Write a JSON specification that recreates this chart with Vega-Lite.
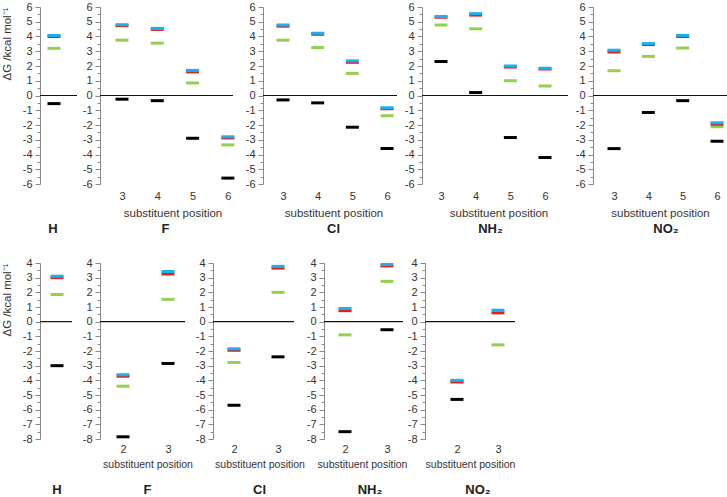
{
"$schema":"https://vega.github.io/schema/vega-lite/v6.json",
"padding":{"left":1,"top":1,"right":0,"bottom":0},
"datasets":{"d":[
{"r":"A","s":"H","p":1,"m":"M1","v":-0.55},{"r":"A","s":"H","p":1,"m":"M2","v":3.2},{"r":"A","s":"H","p":1,"m":"M3","v":4.0},{"r":"A","s":"H","p":1,"m":"M4","v":4.07},
{"r":"A","s":"F","p":3,"m":"M1","v":-0.25},{"r":"A","s":"F","p":3,"m":"M2","v":3.75},{"r":"A","s":"F","p":3,"m":"M3","v":4.73},{"r":"A","s":"F","p":3,"m":"M4","v":4.8},
{"r":"A","s":"F","p":4,"m":"M1","v":-0.35},{"r":"A","s":"F","p":4,"m":"M2","v":3.55},{"r":"A","s":"F","p":4,"m":"M3","v":4.48},{"r":"A","s":"F","p":4,"m":"M4","v":4.55},
{"r":"A","s":"F","p":5,"m":"M1","v":-2.9},{"r":"A","s":"F","p":5,"m":"M2","v":0.85},{"r":"A","s":"F","p":5,"m":"M3","v":1.6},{"r":"A","s":"F","p":5,"m":"M4","v":1.7},
{"r":"A","s":"F","p":6,"m":"M1","v":-5.6},{"r":"A","s":"F","p":6,"m":"M2","v":-3.35},{"r":"A","s":"F","p":6,"m":"M3","v":-2.88},{"r":"A","s":"F","p":6,"m":"M4","v":-2.8},
{"r":"A","s":"Cl","p":3,"m":"M1","v":-0.3},{"r":"A","s":"Cl","p":3,"m":"M2","v":3.75},{"r":"A","s":"Cl","p":3,"m":"M3","v":4.7},{"r":"A","s":"Cl","p":3,"m":"M4","v":4.78},
{"r":"A","s":"Cl","p":4,"m":"M1","v":-0.5},{"r":"A","s":"Cl","p":4,"m":"M2","v":3.25},{"r":"A","s":"Cl","p":4,"m":"M3","v":4.15},{"r":"A","s":"Cl","p":4,"m":"M4","v":4.22},
{"r":"A","s":"Cl","p":5,"m":"M1","v":-2.15},{"r":"A","s":"Cl","p":5,"m":"M2","v":1.5},{"r":"A","s":"Cl","p":5,"m":"M3","v":2.25},{"r":"A","s":"Cl","p":5,"m":"M4","v":2.35},
{"r":"A","s":"Cl","p":6,"m":"M1","v":-3.6},{"r":"A","s":"Cl","p":6,"m":"M2","v":-1.38},{"r":"A","s":"Cl","p":6,"m":"M3","v":-0.9},{"r":"A","s":"Cl","p":6,"m":"M4","v":-0.83},
{"r":"A","s":"NH2","p":3,"m":"M1","v":2.3},{"r":"A","s":"NH2","p":3,"m":"M2","v":4.78},{"r":"A","s":"NH2","p":3,"m":"M3","v":5.3},{"r":"A","s":"NH2","p":3,"m":"M4","v":5.35},
{"r":"A","s":"NH2","p":4,"m":"M1","v":0.2},{"r":"A","s":"NH2","p":4,"m":"M2","v":4.52},{"r":"A","s":"NH2","p":4,"m":"M3","v":5.45},{"r":"A","s":"NH2","p":4,"m":"M4","v":5.55},
{"r":"A","s":"NH2","p":5,"m":"M1","v":-2.85},{"r":"A","s":"NH2","p":5,"m":"M2","v":1.0},{"r":"A","s":"NH2","p":5,"m":"M3","v":1.93},{"r":"A","s":"NH2","p":5,"m":"M4","v":2.0},
{"r":"A","s":"NH2","p":6,"m":"M1","v":-4.2},{"r":"A","s":"NH2","p":6,"m":"M2","v":0.65},{"r":"A","s":"NH2","p":6,"m":"M3","v":1.8},{"r":"A","s":"NH2","p":6,"m":"M4","v":1.85},
{"r":"A","s":"NO2","p":3,"m":"M1","v":-3.6},{"r":"A","s":"NO2","p":3,"m":"M2","v":1.68},{"r":"A","s":"NO2","p":3,"m":"M3","v":2.95},{"r":"A","s":"NO2","p":3,"m":"M4","v":3.07},
{"r":"A","s":"NO2","p":4,"m":"M1","v":-1.15},{"r":"A","s":"NO2","p":4,"m":"M2","v":2.65},{"r":"A","s":"NO2","p":4,"m":"M3","v":3.45},{"r":"A","s":"NO2","p":4,"m":"M4","v":3.52},
{"r":"A","s":"NO2","p":5,"m":"M1","v":-0.35},{"r":"A","s":"NO2","p":5,"m":"M2","v":3.22},{"r":"A","s":"NO2","p":5,"m":"M3","v":4.0},{"r":"A","s":"NO2","p":5,"m":"M4","v":4.07},
{"r":"A","s":"NO2","p":6,"m":"M1","v":-3.1},{"r":"A","s":"NO2","p":6,"m":"M2","v":-2.12},{"r":"A","s":"NO2","p":6,"m":"M3","v":-1.95},{"r":"A","s":"NO2","p":6,"m":"M4","v":-1.85},
{"r":"B","s":"H","p":1,"m":"M1","v":-3.0},{"r":"B","s":"H","p":1,"m":"M2","v":1.85},{"r":"B","s":"H","p":1,"m":"M3","v":3.0},{"r":"B","s":"H","p":1,"m":"M4","v":3.1},
{"r":"B","s":"F","p":2,"m":"M1","v":-7.85},{"r":"B","s":"F","p":2,"m":"M2","v":-4.4},{"r":"B","s":"F","p":2,"m":"M3","v":-3.72},{"r":"B","s":"F","p":2,"m":"M4","v":-3.62},
{"r":"B","s":"F","p":3,"m":"M1","v":-2.85},{"r":"B","s":"F","p":3,"m":"M2","v":1.52},{"r":"B","s":"F","p":3,"m":"M3","v":3.25},{"r":"B","s":"F","p":3,"m":"M4","v":3.42},
{"r":"B","s":"Cl","p":2,"m":"M1","v":-5.7},{"r":"B","s":"Cl","p":2,"m":"M2","v":-2.78},{"r":"B","s":"Cl","p":2,"m":"M3","v":-1.95},{"r":"B","s":"Cl","p":2,"m":"M4","v":-1.85},
{"r":"B","s":"Cl","p":3,"m":"M1","v":-2.4},{"r":"B","s":"Cl","p":3,"m":"M2","v":2.0},{"r":"B","s":"Cl","p":3,"m":"M3","v":3.65},{"r":"B","s":"Cl","p":3,"m":"M4","v":3.77},
{"r":"B","s":"NH2","p":2,"m":"M1","v":-7.5},{"r":"B","s":"NH2","p":2,"m":"M2","v":-0.9},{"r":"B","s":"NH2","p":2,"m":"M3","v":0.75},{"r":"B","s":"NH2","p":2,"m":"M4","v":0.9},
{"r":"B","s":"NH2","p":3,"m":"M1","v":-0.55},{"r":"B","s":"NH2","p":3,"m":"M2","v":2.75},{"r":"B","s":"NH2","p":3,"m":"M3","v":3.8},{"r":"B","s":"NH2","p":3,"m":"M4","v":3.9},
{"r":"B","s":"NO2","p":2,"m":"M1","v":-5.3},{"r":"B","s":"NO2","p":2,"m":"M2","v":-4.15},{"r":"B","s":"NO2","p":2,"m":"M3","v":-4.08},{"r":"B","s":"NO2","p":2,"m":"M4","v":-4.0},
{"r":"B","s":"NO2","p":3,"m":"M2","v":-1.58},{"r":"B","s":"NO2","p":3,"m":"M3","v":0.6},{"r":"B","s":"NO2","p":3,"m":"M4","v":0.78}
],"one":[{}]},
"vconcat":[
{"hconcat":[
 {"width":42,"height":177,
  "title":{"text":"H","orient":"bottom","offset":34,"dx":-8},
  "layer":[
   {"data":{"name":"d"},"transform":[{"filter":"datum.r==='A'&&datum.s==='H'"}],"mark":{"type":"tick","orient":"horizontal","size":13,"thickness":3,"opacity":1},"encoding":{
     "x":{"field":"p","type":"quantitative","scale":{"domain":[0.6,1.8]},"axis":null},
     "y":{"field":"v","type":"quantitative","scale":{"domain":[-6,6]},"axis":{"title":"ΔG /kcal mol⁻¹","titleAnchor":"end","titlePadding":10,"values":[-6,-5.5,-5,-4.5,-4,-3.5,-3,-2.5,-2,-1.5,-1,-0.5,0,0.5,1,1.5,2,2.5,3,3.5,4,4.5,5,5.5,6],"labelExpr":"datum.value%1===0?''+datum.value:''","tickSize":{"condition":{"test":"datum.value%1!==0","value":3},"value":5}}},
     "color":{"field":"m","type":"nominal","scale":{"domain":["M1","M2","M3","M4"],"range":["#000000","#92d050","#e02020","#1ab0f0"]},"legend":null}}},
   {"data":{"name":"one"},"mark":{"type":"rule","color":"#111","strokeWidth":1.2},"encoding":{"x":{"datum":0.6,"type":"quantitative","scale":{"domain":[0.6,1.8]},"axis":null},"x2":{"datum":1.657},"y":{"datum":0,"type":"quantitative","scale":{"domain":[-6,6]},"axis":{"title":"ΔG /kcal mol⁻¹","titleAnchor":"end","titlePadding":10,"values":[-6,-5.5,-5,-4.5,-4,-3.5,-3,-2.5,-2,-1.5,-1,-0.5,0,0.5,1,1.5,2,2.5,3,3.5,4,4.5,5,5.5,6],"labelExpr":"datum.value%1===0?''+datum.value:''","tickSize":{"condition":{"test":"datum.value%1!==0","value":3},"value":5}}}}}
  ]},
 {"width":145,"height":177,
  "title":{"text":"F","orient":"bottom","dx":-7},
  "layer":[
   {"data":{"name":"d"},"transform":[{"filter":"datum.r==='A'&&datum.s==='F'"}],"mark":{"type":"tick","orient":"horizontal","size":13,"thickness":3,"opacity":1},"encoding":{
     "x":{"field":"p","type":"quantitative","scale":{"domain":[2.377,6.485]},"axis":{"values":[3,4,5,6],"title":"substituent position"}},
     "y":{"field":"v","type":"quantitative","scale":{"domain":[-6,6]},"axis":{"title":null,"values":[-6,-5.5,-5,-4.5,-4,-3.5,-3,-2.5,-2,-1.5,-1,-0.5,0,0.5,1,1.5,2,2.5,3,3.5,4,4.5,5,5.5,6],"labelExpr":"datum.value%1===0?''+datum.value:''","tickSize":{"condition":{"test":"datum.value%1!==0","value":3},"value":5}}},
     "color":{"field":"m","type":"nominal","scale":{"domain":["M1","M2","M3","M4"],"range":["#000000","#92d050","#e02020","#1ab0f0"]},"legend":null}}},
   {"data":{"name":"one"},"mark":{"type":"rule","color":"#111","strokeWidth":1.2},"encoding":{"x":{"datum":2.377,"type":"quantitative","scale":{"domain":[2.377,6.485]},"axis":{"values":[3,4,5,6],"title":"substituent position"}},"x2":{"datum":6.145},"y":{"datum":0,"type":"quantitative","scale":{"domain":[-6,6]},"axis":{"title":null,"values":[-6,-5.5,-5,-4.5,-4,-3.5,-3,-2.5,-2,-1.5,-1,-0.5,0,0.5,1,1.5,2,2.5,3,3.5,4,4.5,5,5.5,6],"labelExpr":"datum.value%1===0?''+datum.value:''","tickSize":{"condition":{"test":"datum.value%1!==0","value":3},"value":5}}}}}
  ]},
 {"width":141,"height":177,
  "title":{"text":"Cl","orient":"bottom","dx":0},
  "layer":[
   {"data":{"name":"d"},"transform":[{"filter":"datum.r==='A'&&datum.s==='Cl'"}],"mark":{"type":"tick","orient":"horizontal","size":13,"thickness":3,"opacity":1},"encoding":{
     "x":{"field":"p","type":"quantitative","scale":{"domain":[2.423,6.49]},"axis":{"values":[3,4,5,6],"title":"substituent position"}},
     "y":{"field":"v","type":"quantitative","scale":{"domain":[-6,6]},"axis":{"title":null,"values":[-6,-5.5,-5,-4.5,-4,-3.5,-3,-2.5,-2,-1.5,-1,-0.5,0,0.5,1,1.5,2,2.5,3,3.5,4,4.5,5,5.5,6],"labelExpr":"datum.value%1===0?''+datum.value:''","tickSize":{"condition":{"test":"datum.value%1!==0","value":3},"value":5}}},
     "color":{"field":"m","type":"nominal","scale":{"domain":["M1","M2","M3","M4"],"range":["#000000","#92d050","#e02020","#1ab0f0"]},"legend":null}}},
   {"data":{"name":"one"},"mark":{"type":"rule","color":"#111","strokeWidth":1.2},"encoding":{"x":{"datum":2.423,"type":"quantitative","scale":{"domain":[2.423,6.49]},"axis":{"values":[3,4,5,6],"title":"substituent position"}},"x2":{"datum":6.288},"y":{"datum":0,"type":"quantitative","scale":{"domain":[-6,6]},"axis":{"title":null,"values":[-6,-5.5,-5,-4.5,-4,-3.5,-3,-2.5,-2,-1.5,-1,-0.5,0,0.5,1,1.5,2,2.5,3,3.5,4,4.5,5,5.5,6],"labelExpr":"datum.value%1===0?''+datum.value:''","tickSize":{"condition":{"test":"datum.value%1!==0","value":3},"value":5}}}}}
  ]},
 {"width":153,"height":177,
  "title":{"text":"NH₂","orient":"bottom","dx":-8},
  "layer":[
   {"data":{"name":"d"},"transform":[{"filter":"datum.r==='A'&&datum.s==='NH2'"}],"mark":{"type":"tick","orient":"horizontal","size":13,"thickness":3,"opacity":1},"encoding":{
     "x":{"field":"p","type":"quantitative","scale":{"domain":[2.452,6.865]},"axis":{"values":[3,4,5,6],"title":"substituent position"}},
     "y":{"field":"v","type":"quantitative","scale":{"domain":[-6,6]},"axis":{"title":null,"values":[-6,-5.5,-5,-4.5,-4,-3.5,-3,-2.5,-2,-1.5,-1,-0.5,0,0.5,1,1.5,2,2.5,3,3.5,4,4.5,5,5.5,6],"labelExpr":"datum.value%1===0?''+datum.value:''","tickSize":{"condition":{"test":"datum.value%1!==0","value":3},"value":5}}},
     "color":{"field":"m","type":"nominal","scale":{"domain":["M1","M2","M3","M4"],"range":["#000000","#92d050","#e02020","#1ab0f0"]},"legend":null}}},
   {"data":{"name":"one"},"mark":{"type":"rule","color":"#111","strokeWidth":1.2},"encoding":{"x":{"datum":2.452,"type":"quantitative","scale":{"domain":[2.452,6.865]},"axis":{"values":[3,4,5,6],"title":"substituent position"}},"x2":{"datum":6.663},"y":{"datum":0,"type":"quantitative","scale":{"domain":[-6,6]},"axis":{"title":null,"values":[-6,-5.5,-5,-4.5,-4,-3.5,-3,-2.5,-2,-1.5,-1,-0.5,0,0.5,1,1.5,2,2.5,3,3.5,4,4.5,5,5.5,6],"labelExpr":"datum.value%1===0?''+datum.value:''","tickSize":{"condition":{"test":"datum.value%1!==0","value":3},"value":5}}}}}
  ]},
 {"width":134,"height":177,
  "title":{"text":"NO₂","orient":"bottom","dx":6},
  "layer":[
   {"data":{"name":"d"},"transform":[{"filter":"datum.r==='A'&&datum.s==='NO2'"}],"mark":{"type":"tick","orient":"horizontal","size":13,"thickness":3,"opacity":1},"encoding":{
     "x":{"field":"p","type":"quantitative","scale":{"domain":[2.388,6.291]},"axis":{"values":[3,4,5,6],"title":"substituent position"}},
     "y":{"field":"v","type":"quantitative","scale":{"domain":[-6,6]},"axis":{"title":null,"values":[-6,-5.5,-5,-4.5,-4,-3.5,-3,-2.5,-2,-1.5,-1,-0.5,0,0.5,1,1.5,2,2.5,3,3.5,4,4.5,5,5.5,6],"labelExpr":"datum.value%1===0?''+datum.value:''","tickSize":{"condition":{"test":"datum.value%1!==0","value":3},"value":5}}},
     "color":{"field":"m","type":"nominal","scale":{"domain":["M1","M2","M3","M4"],"range":["#000000","#92d050","#e02020","#1ab0f0"]},"legend":null}}},
   {"data":{"name":"one"},"mark":{"type":"rule","color":"#111","strokeWidth":1.2},"encoding":{"x":{"datum":2.388,"type":"quantitative","scale":{"domain":[2.388,6.291]},"axis":{"values":[3,4,5,6],"title":"substituent position"}},"x2":{"datum":6.291},"y":{"datum":0,"type":"quantitative","scale":{"domain":[-6,6]},"axis":{"title":null,"values":[-6,-5.5,-5,-4.5,-4,-3.5,-3,-2.5,-2,-1.5,-1,-0.5,0,0.5,1,1.5,2,2.5,3,3.5,4,4.5,5,5.5,6],"labelExpr":"datum.value%1===0?''+datum.value:''","tickSize":{"condition":{"test":"datum.value%1!==0","value":3},"value":5}}}}}
  ]}
],"spacing":0},
{"hconcat":[
 {"width":42,"height":176,
  "title":{"text":"H","orient":"bottom","offset":40,"dx":-4},
  "layer":[
   {"data":{"name":"d"},"transform":[{"filter":"datum.r==='B'&&datum.s==='H'"}],"mark":{"type":"tick","orient":"horizontal","size":13,"thickness":3,"opacity":1},"encoding":{
     "x":{"field":"p","type":"quantitative","scale":{"domain":[0.514,1.714]},"axis":null},
     "y":{"field":"v","type":"quantitative","scale":{"domain":[-8,4]},"axis":{"title":"ΔG /kcal mol⁻¹","titleAnchor":"end","titlePadding":10,"values":[-8,-7.5,-7,-6.5,-6,-5.5,-5,-4.5,-4,-3.5,-3,-2.5,-2,-1.5,-1,-0.5,0,0.5,1,1.5,2,2.5,3,3.5,4],"labelExpr":"datum.value%1===0?''+datum.value:''","tickSize":{"condition":{"test":"datum.value%1!==0","value":3},"value":5}}},
     "color":{"field":"m","type":"nominal","scale":{"domain":["M1","M2","M3","M4"],"range":["#000000","#92d050","#e02020","#1ab0f0"]},"legend":null}}},
   {"data":{"name":"one"},"mark":{"type":"rule","color":"#111","strokeWidth":1.2},"encoding":{"x":{"datum":0.514,"type":"quantitative","scale":{"domain":[0.514,1.714]},"axis":null},"x2":{"datum":1.428},"y":{"datum":0,"type":"quantitative","scale":{"domain":[-8,4]},"axis":{"title":"ΔG /kcal mol⁻¹","titleAnchor":"end","titlePadding":10,"values":[-8,-7.5,-7,-6.5,-6,-5.5,-5,-4.5,-4,-3.5,-3,-2.5,-2,-1.5,-1,-0.5,0,0.5,1,1.5,2,2.5,3,3.5,4],"labelExpr":"datum.value%1===0?''+datum.value:''","tickSize":{"condition":{"test":"datum.value%1!==0","value":3},"value":5}}}}}
  ]},
 {"width":95,"height":176,
  "title":{"text":"F","orient":"bottom","dx":0,"offset":14},
  "layer":[
   {"data":{"name":"d"},"transform":[{"filter":"datum.r==='B'&&datum.s==='F'"}],"mark":{"type":"tick","orient":"horizontal","size":13,"thickness":3,"opacity":1},"encoding":{
     "x":{"field":"p","type":"quantitative","scale":{"domain":[1.489,3.6]},"axis":{"values":[2,3],"title":"substituent position","titleFontSize":10.5,"titlePadding":5,"labelPadding":4}},
     "y":{"field":"v","type":"quantitative","scale":{"domain":[-8,4]},"axis":{"title":null,"values":[-8,-7.5,-7,-6.5,-6,-5.5,-5,-4.5,-4,-3.5,-3,-2.5,-2,-1.5,-1,-0.5,0,0.5,1,1.5,2,2.5,3,3.5,4],"labelExpr":"datum.value%1===0?''+datum.value:''","tickSize":{"condition":{"test":"datum.value%1!==0","value":3},"value":5}}},
     "color":{"field":"m","type":"nominal","scale":{"domain":["M1","M2","M3","M4"],"range":["#000000","#92d050","#e02020","#1ab0f0"]},"legend":null}}},
   {"data":{"name":"one"},"mark":{"type":"rule","color":"#111","strokeWidth":1.2},"encoding":{"x":{"datum":1.489,"type":"quantitative","scale":{"domain":[1.489,3.6]},"axis":{"values":[2,3],"title":"substituent position","titleFontSize":10.5,"titlePadding":5,"labelPadding":4}},"x2":{"datum":3.378},"y":{"datum":0,"type":"quantitative","scale":{"domain":[-8,4]},"axis":{"title":null,"values":[-8,-7.5,-7,-6.5,-6,-5.5,-5,-4.5,-4,-3.5,-3,-2.5,-2,-1.5,-1,-0.5,0,0.5,1,1.5,2,2.5,3,3.5,4],"labelExpr":"datum.value%1===0?''+datum.value:''","tickSize":{"condition":{"test":"datum.value%1!==0","value":3},"value":5}}}}}
  ]},
 {"width":93,"height":176,
  "title":{"text":"Cl","orient":"bottom","dx":0,"offset":14},
  "layer":[
   {"data":{"name":"d"},"transform":[{"filter":"datum.r==='B'&&datum.s==='Cl'"}],"mark":{"type":"tick","orient":"horizontal","size":13,"thickness":3,"opacity":1},"encoding":{
     "x":{"field":"p","type":"quantitative","scale":{"domain":[1.523,3.637]},"axis":{"values":[2,3],"title":"substituent position","titleFontSize":10.5,"titlePadding":5,"labelPadding":4}},
     "y":{"field":"v","type":"quantitative","scale":{"domain":[-8,4]},"axis":{"title":null,"values":[-8,-7.5,-7,-6.5,-6,-5.5,-5,-4.5,-4,-3.5,-3,-2.5,-2,-1.5,-1,-0.5,0,0.5,1,1.5,2,2.5,3,3.5,4],"labelExpr":"datum.value%1===0?''+datum.value:''","tickSize":{"condition":{"test":"datum.value%1!==0","value":3},"value":5}}},
     "color":{"field":"m","type":"nominal","scale":{"domain":["M1","M2","M3","M4"],"range":["#000000","#92d050","#e02020","#1ab0f0"]},"legend":null}}},
   {"data":{"name":"one"},"mark":{"type":"rule","color":"#111","strokeWidth":1.2},"encoding":{"x":{"datum":1.523,"type":"quantitative","scale":{"domain":[1.523,3.637]},"axis":{"values":[2,3],"title":"substituent position","titleFontSize":10.5,"titlePadding":5,"labelPadding":4}},"x2":{"datum":3.364},"y":{"datum":0,"type":"quantitative","scale":{"domain":[-8,4]},"axis":{"title":null,"values":[-8,-7.5,-7,-6.5,-6,-5.5,-5,-4.5,-4,-3.5,-3,-2.5,-2,-1.5,-1,-0.5,0,0.5,1,1.5,2,2.5,3,3.5,4],"labelExpr":"datum.value%1===0?''+datum.value:''","tickSize":{"condition":{"test":"datum.value%1!==0","value":3},"value":5}}}}}
  ]},
 {"width":76,"height":176,
  "title":{"text":"NH₂","orient":"bottom","dx":8,"offset":14},
  "layer":[
   {"data":{"name":"d"},"transform":[{"filter":"datum.r==='B'&&datum.s==='NH2'"}],"mark":{"type":"tick","orient":"horizontal","size":13,"thickness":3,"opacity":1},"encoding":{
     "x":{"field":"p","type":"quantitative","scale":{"domain":[1.5,3.31]},"axis":{"values":[2,3],"title":"substituent position","titleFontSize":10.5,"titlePadding":5,"labelPadding":4}},
     "y":{"field":"v","type":"quantitative","scale":{"domain":[-8,4]},"axis":{"title":null,"values":[-8,-7.5,-7,-6.5,-6,-5.5,-5,-4.5,-4,-3.5,-3,-2.5,-2,-1.5,-1,-0.5,0,0.5,1,1.5,2,2.5,3,3.5,4],"labelExpr":"datum.value%1===0?''+datum.value:''","tickSize":{"condition":{"test":"datum.value%1!==0","value":3},"value":5}}},
     "color":{"field":"m","type":"nominal","scale":{"domain":["M1","M2","M3","M4"],"range":["#000000","#92d050","#e02020","#1ab0f0"]},"legend":null}}},
   {"data":{"name":"one"},"mark":{"type":"rule","color":"#111","strokeWidth":1.2},"encoding":{"x":{"datum":1.5,"type":"quantitative","scale":{"domain":[1.5,3.31]},"axis":{"values":[2,3],"title":"substituent position","titleFontSize":10.5,"titlePadding":5,"labelPadding":4}},"x2":{"datum":3.381},"y":{"datum":0,"type":"quantitative","scale":{"domain":[-8,4]},"axis":{"title":null,"values":[-8,-7.5,-7,-6.5,-6,-5.5,-5,-4.5,-4,-3.5,-3,-2.5,-2,-1.5,-1,-0.5,0,0.5,1,1.5,2,2.5,3,3.5,4],"labelExpr":"datum.value%1===0?''+datum.value:''","tickSize":{"condition":{"test":"datum.value%1!==0","value":3},"value":5}}}}}
  ]},
 {"width":90,"height":176,
  "title":{"text":"NO₂","orient":"bottom","dx":8,"offset":14},
  "layer":[
   {"data":{"name":"d"},"transform":[{"filter":"datum.r==='B'&&datum.s==='NO2'"}],"mark":{"type":"tick","orient":"horizontal","size":13,"thickness":3,"opacity":1},"encoding":{
     "x":{"field":"p","type":"quantitative","scale":{"domain":[1.22,3.415]},"axis":{"values":[2,3],"title":"substituent position","titleFontSize":10.5,"titlePadding":5,"labelPadding":4}},
     "y":{"field":"v","type":"quantitative","scale":{"domain":[-8,4]},"axis":{"title":null,"values":[-8,-7.5,-7,-6.5,-6,-5.5,-5,-4.5,-4,-3.5,-3,-2.5,-2,-1.5,-1,-0.5,0,0.5,1,1.5,2,2.5,3,3.5,4],"labelExpr":"datum.value%1===0?''+datum.value:''","tickSize":{"condition":{"test":"datum.value%1!==0","value":3},"value":5}}},
     "color":{"field":"m","type":"nominal","scale":{"domain":["M1","M2","M3","M4"],"range":["#000000","#92d050","#e02020","#1ab0f0"]},"legend":null}}},
   {"data":{"name":"one"},"mark":{"type":"rule","color":"#111","strokeWidth":1.2},"encoding":{"x":{"datum":1.22,"type":"quantitative","scale":{"domain":[1.22,3.415]},"axis":{"values":[2,3],"title":"substituent position","titleFontSize":10.5,"titlePadding":5,"labelPadding":4}},"x2":{"datum":3.415},"y":{"datum":0,"type":"quantitative","scale":{"domain":[-8,4]},"axis":{"title":null,"values":[-8,-7.5,-7,-6.5,-6,-5.5,-5,-4.5,-4,-3.5,-3,-2.5,-2,-1.5,-1,-0.5,0,0.5,1,1.5,2,2.5,3,3.5,4],"labelExpr":"datum.value%1===0?''+datum.value:''","tickSize":{"condition":{"test":"datum.value%1!==0","value":3},"value":5}}}}}
  ]}
],"spacing":0}
],
"spacing":21,
"config":{
 "view":{"stroke":null},
 "axis":{"labelFont":"Liberation Sans","titleFont":"Liberation Sans","labelFontSize":11,"labelColor":"#333","titleColor":"#333","titleFontWeight":"normal","titleFontSize":11.5,"grid":false,"domainColor":"#888","tickColor":"#888","labelPadding":3,"labelOverlap":false},
 "axisX":{"domain":false,"ticks":false,"labelPadding":6,"titlePadding":6,"labelFlush":false},
 "axisY":{"titlePadding":4},
 "title":{"font":"Liberation Sans","fontSize":13,"fontWeight":"bold","color":"#222","offset":4}
}
}
